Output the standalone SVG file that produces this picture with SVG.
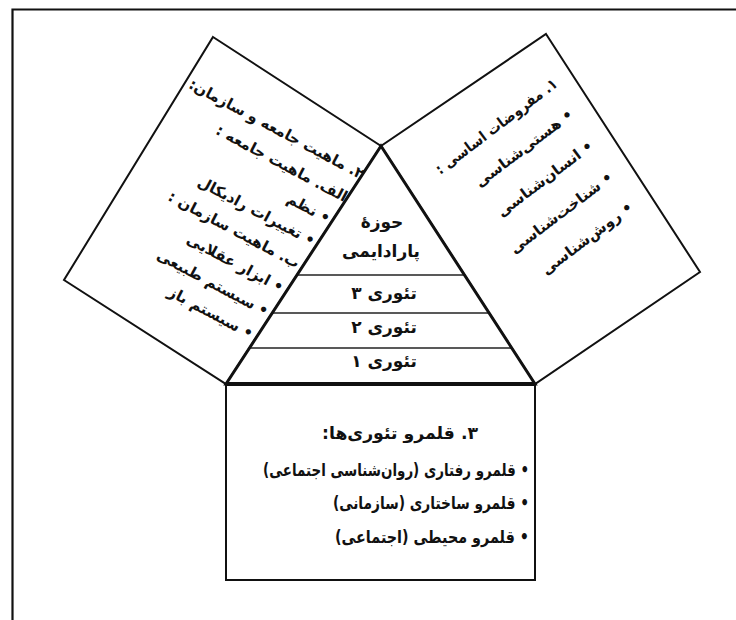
<svg xmlns="http://www.w3.org/2000/svg" width="736" height="620" viewBox="0 0 736 620">
<style>
.edge{fill:#fff;stroke:#111;stroke-width:2;stroke-linejoin:miter}
.thick{fill:none;stroke:#111;stroke-width:3;stroke-linejoin:miter}
.thin{fill:none;stroke:#222;stroke-width:1.6}
text{font-family:"DejaVu Sans","Noto Sans",sans-serif;font-weight:bold;fill:#111}
.t{font-size:15px}
.p{font-size:17px;text-anchor:middle}
.b{font-size:17px}
</style>
<rect x="0" y="0" width="736" height="620" fill="#fff"/>
<g id="frame"><path d="M12.5,620 V9.5 H736" fill="none" stroke="#111" stroke-width="2.2"/></g>

<g id="left-box">
<polygon class="edge" points="213,37 381,146 226,384 64,280"/>
<g transform="translate(325,217) rotate(28)">
<text class="t" direction="rtl" text-anchor="start" x="14" y="-50" textLength="196" lengthAdjust="spacingAndGlyphs">۲. ماهیت جامعه و سازمان:</text>
<text class="t" direction="rtl" text-anchor="start" x="10" y="-22">الف. ماهیت جامعه :</text>
<text class="t" direction="rtl" text-anchor="start" x="5" y="5">• نظم</text>
<text class="t" direction="rtl" text-anchor="start" x="2" y="32">• تغییرات رادیکال</text>
<text class="t" direction="rtl" text-anchor="start" x="-1" y="59">ب. ماهیت سازمان :</text>
<text class="t" direction="rtl" text-anchor="start" x="-4" y="88">• ابزار عقلایی</text>
<text class="t" direction="rtl" text-anchor="start" x="-6" y="116">• سیستم طبیعی</text>
<text class="t" direction="rtl" text-anchor="start" x="-9" y="143">• سیستم باز</text>
</g>
</g>

<g id="right-box">
<polygon class="edge" points="546,34 700,272 535,384 381,146"/>
<g transform="translate(568,115) rotate(-37)">
<text class="t" direction="rtl" text-anchor="start" x="10" y="-29" textLength="148" lengthAdjust="spacingAndGlyphs">۱. مفروضات اساسی :</text>
<text class="t" direction="rtl" text-anchor="start" x="4" y="5">• هستی&#x200C;شناسی</text>
<text class="t" direction="rtl" text-anchor="start" x="1" y="42">• انسان&#x200C;شناسی</text>
<text class="t" direction="rtl" text-anchor="start" x="-2" y="79">• شناخت&#x200C;شناسی</text>
<text class="t" direction="rtl" text-anchor="start" x="-4" y="115">• روش&#x200C;شناسی</text>
</g>
</g>

<g id="bottom-box">
<rect class="edge" x="226" y="384" width="309" height="196"/>
<text class="b" direction="rtl" text-anchor="start" x="478" y="439" textLength="156" lengthAdjust="spacingAndGlyphs">۳. قلمرو تئوری&#x200C;ها:</text>
<text class="b" direction="rtl" text-anchor="start" x="529" y="476" textLength="266" lengthAdjust="spacingAndGlyphs">• قلمرو رفتاری (روان&#x200C;شناسی اجتماعی)</text>
<text class="b" direction="rtl" text-anchor="start" x="529" y="509" textLength="196" lengthAdjust="spacingAndGlyphs">• قلمرو ساختاری (سازمانی)</text>
<text class="b" direction="rtl" text-anchor="start" x="529" y="543" textLength="194" lengthAdjust="spacingAndGlyphs">• قلمرو محیطی (اجتماعی)</text>
</g>

<g id="pyramid">
<polygon points="381,146 535,384 226,384" fill="#fff" stroke="none"/>
<line class="thin" x1="297" y1="275" x2="465" y2="275"/>
<line class="thin" x1="273" y1="313" x2="489" y2="313"/>
<line class="thin" x1="250" y1="348" x2="512" y2="348"/>
<polygon class="thick" points="381,146 535,384 226,384"/>
<line x1="226" y1="384" x2="535" y2="384" stroke="#111" stroke-width="4"/>
<text class="p" x="382" y="228">حوزهٔ</text>
<text class="p" x="381" y="257">پارادایمی</text>
<text class="p" x="384" y="299">تئوری ۳</text>
<text class="p" x="384" y="333">تئوری ۲</text>
<text class="p" x="384" y="367">تئوری ۱</text>
</g>
</svg>
